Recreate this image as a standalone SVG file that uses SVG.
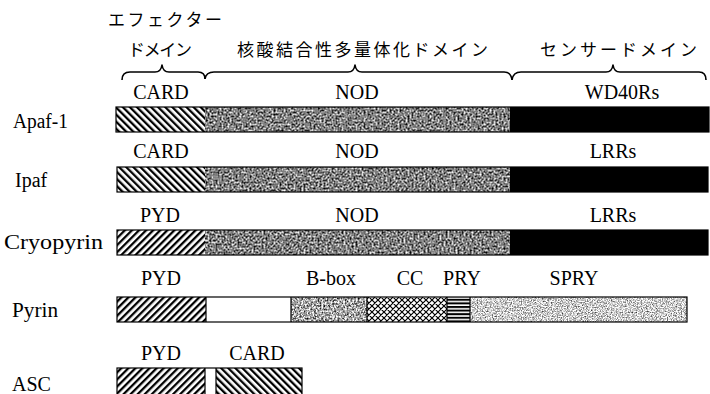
<svg xmlns="http://www.w3.org/2000/svg" width="710" height="394" viewBox="0 0 710 394">
<defs>
<style>
.lat{font-family:"Liberation Serif","Times New Roman",serif;font-size:20px;fill:#000}
.dom{font-family:"Liberation Serif","Times New Roman",serif;font-size:20px;fill:#000;text-anchor:middle}
.jp{font-family:"Noto Sans CJK JP","Noto Sans",sans-serif;font-size:17px;fill:#000}
.bx{stroke:#000;stroke-width:1.2;fill:none}
.brace{fill:none;stroke:#000;stroke-width:1.6;stroke-linejoin:round}
</style>
<pattern id="card" patternUnits="userSpaceOnUse" width="5" height="5" patternTransform="rotate(-45)">
<rect width="5" height="5" fill="#fff"/><rect x="0" y="0" width="2.3" height="5" fill="#000"/>
</pattern>
<pattern id="pyd" patternUnits="userSpaceOnUse" width="5" height="5" patternTransform="rotate(45)">
<rect width="5" height="5" fill="#fff"/><rect x="0" y="0" width="2.3" height="5" fill="#000"/>
</pattern>
<pattern id="cc" patternUnits="userSpaceOnUse" width="6" height="6">
<rect width="6" height="6" fill="#fff"/>
<path d="M0,0 L6,6 M6,0 L0,6 M-1,5 L1,7 M5,-1 L7,1 M-1,1 L1,-1 M5,7 L7,5" stroke="#000" stroke-width="1.2"/>
</pattern>
<pattern id="pry" patternUnits="userSpaceOnUse" width="4" height="3.6">
<rect width="4" height="3.6" fill="#fff"/><rect y="0" width="4" height="2" fill="#000"/>
</pattern>
<filter id="nodN" x="0" y="0" width="1" height="1" color-interpolation-filters="sRGB">
<feTurbulence type="fractalNoise" baseFrequency="0.5" numOctaves="3" seed="4" result="t"/>
<feColorMatrix in="t" type="matrix" values="1.7 0 0 0 -0.35  1.7 0 0 0 -0.35  1.7 0 0 0 -0.35  0 0 0 0 1" result="g"/>
<feComposite in="g" in2="SourceAlpha" operator="in"/>
</filter>
<filter id="bbN" x="0" y="0" width="1" height="1" color-interpolation-filters="sRGB">
<feTurbulence type="fractalNoise" baseFrequency="0.55" numOctaves="3" seed="9" result="t"/>
<feColorMatrix in="t" type="matrix" values="1.8 0 0 0 -0.25  1.8 0 0 0 -0.25  1.8 0 0 0 -0.25  0 0 0 0 1" result="g"/>
<feComposite in="g" in2="SourceAlpha" operator="in"/>
</filter>
<filter id="spN" x="0" y="0" width="1" height="1" color-interpolation-filters="sRGB">
<feTurbulence type="fractalNoise" baseFrequency="0.8" numOctaves="2" seed="2" result="t"/>
<feColorMatrix in="t" type="matrix" values="1.6 0 0 0 0  1.6 0 0 0 0  1.6 0 0 0 0  0 0 0 0 1" result="g"/>
<feComposite in="g" in2="SourceAlpha" operator="in"/>
</filter>
</defs>
<rect width="710" height="394" fill="#fff"/>

<g id="header">
<text class="jp" x="108" y="26" font-size="18" textLength="114" lengthAdjust="spacing">エフェクター</text>
<text class="jp" x="128" y="56" font-size="16" textLength="64" lengthAdjust="spacing">ドメイン</text>
<text class="jp" x="237" y="56" font-size="18" textLength="251" lengthAdjust="spacing">核酸結合性多量体化ドメイン</text>
<text class="jp" x="540" y="56" font-size="18" textLength="157" lengthAdjust="spacing">センサードメイン</text>
</g>

<g id="braces">
<path class="brace" d="M122,80 Q122,72 130,72 L155,72 Q161,72 162,65 Q163,72 169,72 L198,72 Q205,72 205,79"/>
<path class="brace" d="M205,79 Q206,72 214,72 L348,72 Q354,72 355,65 Q356,72 362,72 L504,72 Q511,72 512,80"/>
<path class="brace" d="M512,80 Q513,72 521,72 L606,72 Q612,72 613,65 Q614,72 620,72 L699,72 Q706,72 706,80"/>
</g>

<g id="apaf1">
<text class="lat" x="13" y="128" textLength="55" lengthAdjust="spacingAndGlyphs">Apaf-1</text>
<rect x="116" y="107" width="89" height="25" fill="url(#card)"/>
<rect x="205" y="107" width="305" height="25" fill="#888" filter="url(#nodN)"/>
<rect x="510" y="107" width="199" height="25" fill="#000"/>
<rect class="bx" x="116" y="107" width="593" height="25"/>
<text class="dom" x="161" y="99">CARD</text>
<text class="dom" x="357" y="99">NOD</text>
<text class="dom" x="622" y="99">WD40Rs</text>
</g>

<g id="ipaf">
<text class="lat" x="15" y="187">Ipaf</text>
<rect x="117" y="167" width="88" height="25" fill="url(#card)"/>
<rect x="205" y="167" width="305" height="25" fill="#888" filter="url(#nodN)"/>
<rect x="510" y="167" width="198" height="25" fill="#000"/>
<rect class="bx" x="117" y="167" width="591" height="25"/>
<text class="dom" x="161" y="158">CARD</text>
<text class="dom" x="357" y="158">NOD</text>
<text class="dom" x="613" y="158">LRRs</text>
</g>

<g id="cryopyrin">
<text class="lat" x="4" y="249" textLength="99" lengthAdjust="spacingAndGlyphs">Cryopyrin</text>
<rect x="117" y="230" width="88" height="25" fill="url(#pyd)"/>
<rect x="205" y="230" width="305" height="25" fill="#888" filter="url(#nodN)"/>
<rect x="510" y="230" width="198" height="25" fill="#000"/>
<rect class="bx" x="117" y="230" width="591" height="25"/>
<text class="dom" x="160" y="222">PYD</text>
<text class="dom" x="357" y="222">NOD</text>
<text class="dom" x="613" y="222">LRRs</text>
</g>

<g id="pyrin">
<text class="lat" x="12" y="317" textLength="46" lengthAdjust="spacingAndGlyphs">Pyrin</text>
<rect x="117" y="297" width="89" height="25" fill="url(#pyd)"/>
<rect x="206" y="297" width="85" height="25" fill="#fff"/>
<rect x="291" y="297" width="76" height="25" fill="#999" filter="url(#bbN)"/>
<rect x="367" y="297" width="80" height="25" fill="url(#cc)"/>
<rect x="447" y="297" width="23" height="25" fill="url(#pry)"/>
<rect x="470" y="297" width="217" height="25" fill="#ccc" filter="url(#spN)"/>
<rect class="bx" x="117" y="297" width="570" height="25"/>
<path d="M206,297 V322 M291,297 V322 M367,297 V322 M447,297 V322 M470,297 V322" stroke="#000" stroke-width="1.2"/>
<text class="dom" x="161" y="285">PYD</text>
<text class="dom" x="331" y="285">B-box</text>
<text class="dom" x="410" y="285">CC</text>
<text class="dom" x="462" y="285">PRY</text>
<text class="dom" x="574" y="285">SPRY</text>
</g>

<g id="asc">
<text class="lat" x="12" y="391">ASC</text>
<rect x="117" y="368" width="88" height="27" fill="url(#pyd)"/>
<rect x="205" y="368" width="11" height="27" fill="#fff"/>
<rect x="216" y="368" width="86" height="27" fill="url(#card)"/>
<rect class="bx" x="117" y="368" width="185" height="27"/>
<path d="M205,368 V395 M216,368 V395" stroke="#000" stroke-width="1.2"/>
<text class="dom" x="161" y="360">PYD</text>
<text class="dom" x="257" y="360">CARD</text>
</g>
</svg>
